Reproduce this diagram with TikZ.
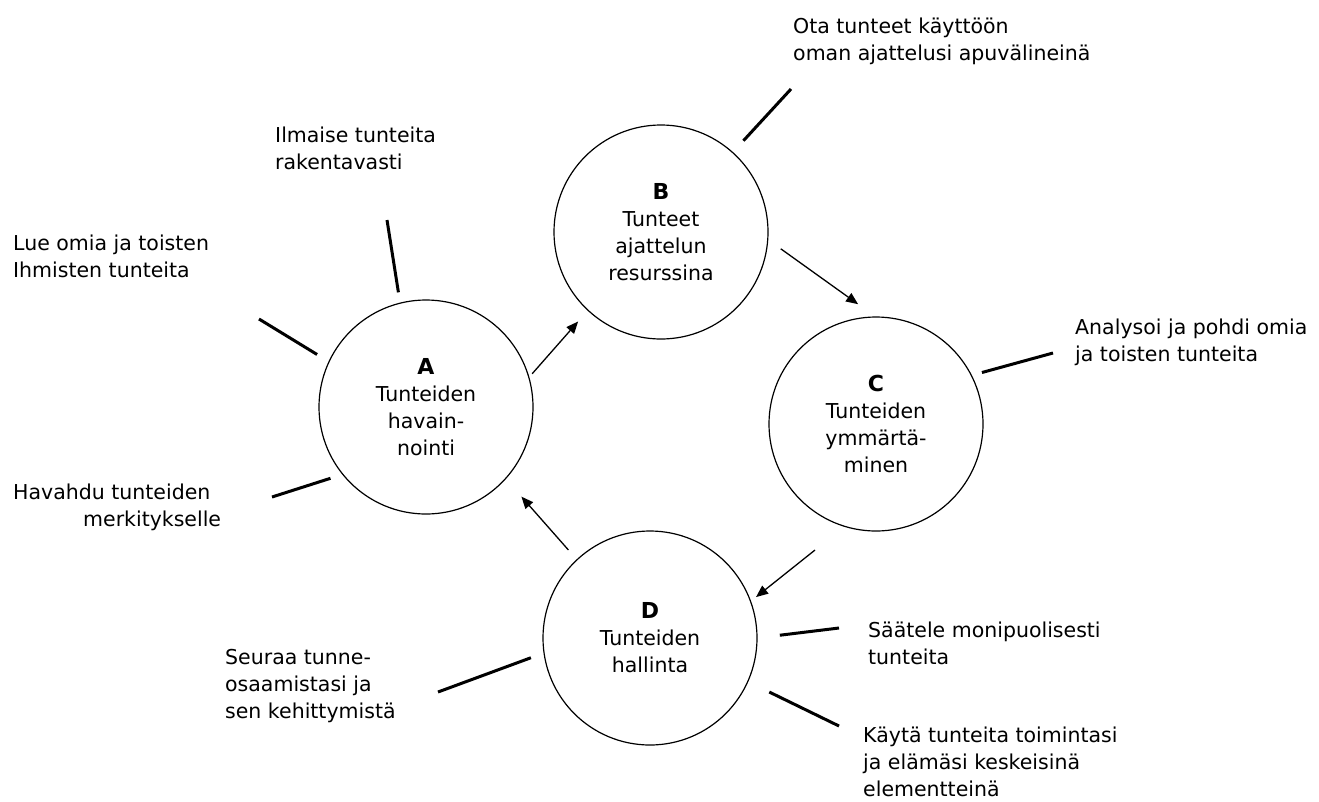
\documentclass[tikz,border=0pt]{standalone}
\usepackage{fontspec}
\setmainfont{DejaVu Sans}
\usetikzlibrary{arrows.meta}

\tikzset{
	circ/.style={draw, circle, minimum size=214pt, inner sep=0pt, outer sep=0pt, line width=1.2pt, align=center},
	lbl/.style={anchor=base west, inner sep=0pt, align=left},
	arr/.style={line width=1.3pt, -{Triangle[length=12pt,width=10pt]}},
	spoke/.style={line width=3pt}
}
\newcommand{\phaseletter}[1]{{\fontsize{22}{27}\selectfont\bfseries #1}}

\begin{document}
\begin{tikzpicture}[x=1pt, y=-1pt, font=\fontsize{20.5}{27}\selectfont]
		%%%%% START %%%%%
		\useasboundingbox (0,0) rectangle (1319,801);
		
		\node[circ] (A) at (426,407) {\phaseletter{A}\\Tunteiden\\havain-\\nointi};
		\node[circ] (B) at (661,232) {\phaseletter{B}\\Tunteet\\ajattelun\\resurssina};
		\node[circ] (C) at (876,424) {\phaseletter{C}\\Tunteiden\\ymmärtä-\\minen};
		\node[circ] (D) at (650,638) {\phaseletter{D}\\Tunteiden\\hallinta};
		
		\draw[arr, shorten <=5pt, shorten >=15pt] (A.16) -- (B.227);
		\draw[arr, shorten <=16pt, shorten >=22pt] (B.-4) -- (C.90);
		\draw[arr, shorten <=38pt, shorten >=7pt] (C.253) -- (D.20);
		\draw[arr, shorten <=13pt, shorten >=24pt] (D.133) -- (A.-42);
		
		% base anchor sits on the last line
		\node[lbl] (ilmaise) at (275,169) {Ilmaise tunteita\\rakentavasti};
		\node[lbl] (lue) at (13,277) {Lue omia ja toisten\\Ihmisten tunteita};
		\node[lbl] (havahdu) at (13,526) {Havahdu tunteiden\\\hspace*{70pt}merkitykselle};
		\node[lbl] (ota) at (793,60) {Ota tunteet käyttöön\\oman ajattelusi apuvälineinä};
		\node[lbl] (analysoi) at (1075,361) {Analysoi ja pohdi omia\\ja toisten tunteita};
		\node[lbl] (saatele) at (868,664) {Säätele monipuolisesti\\tunteita};
		\node[lbl] (kayta) at (863,796) {Käytä tunteita toimintasi\\ja elämäsi keskeisinä\\elementteinä};
		\node[lbl] (seuraa) at (225,718) {Seuraa tunne-\\osaamistasi ja\\sen kehittymistä};
		
		\coordinate (ilmaiseEnd) at (387,220);
		\coordinate (lueEnd) at (259,319);
		\coordinate (havahduEnd) at (272,497);
		\coordinate (otaEnd) at (791,89);
		\coordinate (analysoiEnd) at (1053,353);
		\coordinate (saateleEnd) at (839,628);
		\coordinate (kaytaEnd) at (839,726);
		\coordinate (seuraaEnd) at (438,692);
		
		\draw[spoke, shorten <=11pt] (A.104) -- (ilmaiseEnd);
		\draw[spoke, shorten <=14pt] (A.155) -- (lueEnd);
		\draw[spoke, shorten <=13pt] (A.219) -- (havahduEnd);
		\draw[spoke, shorten <=16pt] (B.48) -- (otaEnd);
		\draw[spoke, shorten <=11pt] (C.27) -- (analysoiEnd);
		\draw[spoke, shorten <=23pt] (D.0) -- (saateleEnd);
		\draw[spoke, shorten <=24pt] (D.-24) -- (kaytaEnd);
		\draw[spoke, shorten <=14pt] (D.188) -- (seuraaEnd);
		
		%%%%% END %%%%%
\end{tikzpicture}
\end{document}
